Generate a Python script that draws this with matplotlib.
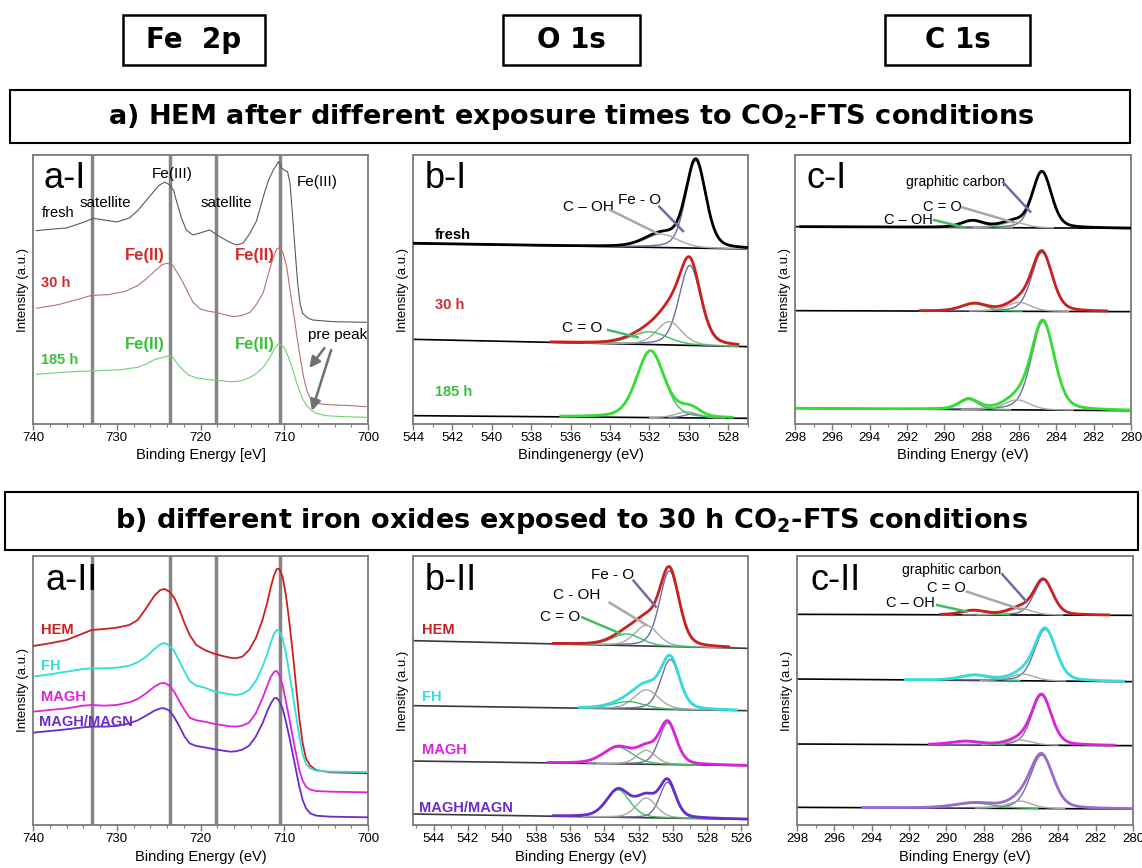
import numpy as np
import matplotlib

matplotlib.use("Agg")
import matplotlib.pyplot as plt
from matplotlib.patches import Rectangle

plt.rcParams["font.family"] = ["Liberation Sans", "DejaVu Sans"]
plt.rcParams["mathtext.fontset"] = "custom"
plt.rcParams["mathtext.rm"] = "DejaVu Sans:bold"
plt.rcParams["mathtext.it"] = "DejaVu Sans:bold"
plt.rcParams["mathtext.bf"] = "DejaVu Sans:bold"

# ---------------------------------------------------------------------------
# a-I  Fe 2p, HEM after 0 / 30 / 185 h  (binding energy eV, intensity a.u.)
FE1_FRESH_BE = [739.6, 738.0, 736.0, 734.0, 732.8, 731.5, 730.0, 728.5, 727.5, 726.1, 725.0,
                724.3, 723.7, 723.2, 722.9, 722.3, 721.7, 720.9, 719.8, 718.9, 717.7, 716.5,
                715.7, 714.9, 714.1, 713.3, 712.5, 711.9, 711.3, 710.7, 710.3, 709.9, 709.6,
                709.3, 709.0, 708.7, 708.4, 708.1, 707.8, 707.2, 706.6, 704.2, 702.0, 700.2]
FE1_FRESH_I = [580, 584, 588, 605, 617, 612, 606, 618, 640, 682, 715,
               726, 718, 700, 672, 620, 582, 567, 575, 582, 562, 545,
               537, 543, 572, 610, 682, 730, 762, 787, 768, 760, 757,
               720, 622, 520, 422, 360, 332, 318, 312, 307, 306, 305]
FE1_30H_BE = [739.6, 737.0, 734.5, 733.0, 731.0, 729.0, 727.5, 726.5, 725.5, 724.6, 724.0,
              723.4, 722.8, 722.1, 721.5, 720.9, 720.0, 719.0, 718.0, 717.0, 716.0, 715.0,
              714.1, 713.3, 712.5, 711.9, 711.3, 710.9, 710.5, 710.1, 709.7, 709.3, 708.9,
              708.5, 708.1, 707.7, 707.3, 706.9, 706.4, 705.6, 704.0, 702.0, 700.2]
FE1_30H_I = [347, 358, 375, 386, 388, 398, 415, 435, 458, 478, 482,
             478, 455, 425, 395, 365, 345, 338, 334, 327, 322, 326,
             335, 360, 395, 450, 500, 525, 530, 510, 470, 400, 335,
             265, 200, 142, 100, 78, 66, 60, 57, 55, 52]
FE1_185H_BE = [739.6, 737.0, 734.5, 732.0, 729.5, 727.5, 726.5, 725.5, 724.5, 723.8, 723.3,
               722.8, 722.2, 721.5, 720.5, 719.0, 717.5, 716.5, 715.5, 714.5, 713.5, 712.5,
               711.7, 711.2, 710.7, 710.3, 709.9, 709.5, 709.0, 708.6, 708.2, 707.8, 707.3,
               706.8, 706.2, 705.0, 703.0, 700.2]
FE1_185H_I = [149, 154, 158, 160, 163, 170, 180, 193, 200, 204, 200,
              182, 165, 148, 138, 133, 130, 127, 128, 135, 148, 170,
              200, 225, 240, 236, 225, 200, 165, 130, 100, 75, 55,
              42, 32, 25, 22, 20]

# a-II  Fe 2p, different iron oxides after 30 h
FE2_BE = [740.0, 738.0, 736.0, 734.0, 733.0, 731.5, 730.0, 728.5, 727.5, 726.5, 725.5,
          724.8, 724.3, 723.7, 723.1, 722.5, 721.9, 721.3, 720.5, 719.5, 718.5, 717.5,
          716.5, 715.8, 715.0, 714.2, 713.4, 712.6, 712.0, 711.6, 711.2, 710.9, 710.6,
          710.2, 709.8, 709.4, 709.0, 708.6, 708.2, 707.8, 707.4, 706.9, 706.2, 704.5, 700.0]
FE2_HEM_I = [537, 545, 555, 575, 585, 588, 592, 600, 615, 650, 688,
             705, 708, 700, 680, 645, 605, 570, 540, 525, 515, 508,
             502, 500, 505, 525, 560, 615, 670, 715, 750, 768, 768,
             745, 690, 610, 520, 420, 320, 245, 200, 178, 165, 158, 155]
FE2_FH_I = [445, 452, 460, 468, 470, 470, 472, 478, 488, 505, 528,
            542, 546, 538, 520, 490, 460, 432, 418, 412, 402, 397,
            392, 390, 393, 405, 432, 475, 515, 548, 575, 585, 582,
            560, 515, 455, 395, 330, 265, 212, 183, 170, 163, 160, 159]
FE2_MAGH_I = [340, 345, 350, 358, 360, 358, 360, 368, 378, 395, 415,
              425, 426, 418, 398, 370, 345, 322, 314, 310, 304, 300,
              296, 295, 298, 307, 335, 380, 420, 445, 460, 462, 450,
              420, 370, 320, 265, 215, 165, 133, 115, 106, 102, 100, 98]
FE2_MM_I = [277, 282, 287, 293, 295, 295, 297, 305, 314, 328, 343,
            350, 350, 343, 322, 295, 265, 245, 237, 233, 228, 224,
            220, 221, 226, 238, 265, 305, 343, 365, 380, 381, 372,
            350, 310, 265, 215, 165, 115, 75, 50, 35, 28, 25, 23]
FE_LINES = [733.0, 723.6, 718.1, 710.5]

# ---------------------------------------------------------------------------
# Peak fits: (centre eV, height a.u., FWHM eV), order = [main, grey, green]
# baselines: (intensity at high-BE edge, intensity at low-BE edge)
# b-I  O 1s
O1_FRESH_BASE = (542, 525)
O1_FRESH_PEAKS = [(529.65, 262, 1.2), (531.4, 40, 2.0)]
O1_30H_BASE = (254, 232)
O1_30H_PEAKS = [(529.95, 240, 1.3), (531.0, 70, 1.5), (532.0, 38, 2.2)]
O1_185H_BASE = (25, 17)
O1_185H_PEAKS = [(529.8, 12, 1.0), (530.1, 18, 1.3), (531.95, 200, 1.65)]
O1_RANGES = [(544.0, 527.0), (537.0, 527.5), (536.5, 527.8)]

# c-I  C 1s
C1_TOP_BASE = (592, 587)
C1_TOP_PEAKS = [(284.77, 168, 1.2), (286.3, 17, 1.5), (288.5, 20, 1.4)]
C1_MID_BASE = (340, 337)
C1_MID_PEAKS = [(284.77, 177, 1.3), (286.0, 27, 1.5), (288.4, 22, 1.6)]
C1_BOT_BASE = (47, 40)
C1_BOT_PEAKS = [(284.72, 265, 1.45), (286.1, 30, 1.6), (288.7, 30, 1.2)]
C1_RANGES = [(297.7, 280.0), (291.3, 281.3), (297.9, 280.0)]

# b-II  O 1s
O2_HEM_BASE = (553, 530)
O2_HEM_PEAKS = [(530.2, 227, 1.35), (531.55, 62, 1.6), (532.7, 35, 2.0)]
O2_FH_BASE = (358, 343)
O2_FH_PEAKS = [(530.15, 150, 1.3), (531.55, 58, 1.7), (532.6, 22, 2.2)]
O2_MAGH_BASE = (192, 178)
O2_MAGH_PEAKS = [(530.3, 125, 1.2), (531.55, 42, 1.3), (533.2, 50, 2.0)]
O2_MM_BASE = (33, 17)
O2_MM_PEAKS = [(530.3, 107, 1.1), (531.55, 59, 1.4), (533.2, 82, 1.6)]
O2_RANGES = [(537.0, 526.7), (535.5, 526.3), (537.3, 525.6), (537.0, 525.6)]

# c-II  C 1s
C2_HEM_BASE = (632, 629)
C2_HEM_PEAKS = [(284.8, 105, 1.2), (286.05, 20, 1.5), (288.55, 13, 1.5)]
C2_FH_BASE = (438, 430)
C2_FH_PEAKS = [(284.7, 155, 1.35), (285.9, 20, 1.5), (288.5, 15, 1.8)]
C2_MAGH_BASE = (243, 238)
C2_MAGH_PEAKS = [(284.9, 150, 1.25), (286.05, 15, 1.5), (289.0, 10, 1.8)]
C2_MM_BASE = (53, 48)
C2_MM_PEAKS = [(284.9, 160, 1.45), (286.05, 22, 1.5), (288.5, 15, 2.5)]
C2_RANGES = [(290.3, 281.3), (292.2, 280.5), (290.9, 281.0), (294.5, 280.0)]

SAMPLES = ["HEM", "FH", "MAGH", "MAGH/MAGN"]
TIMES = ["fresh", "30 h", "185 h"]

# colours
C_FRESH, C_30H, C_185H = "#5a5a5a", "#b07373", "#74cf74"
T_RED, T_GREEN = "#d42a2a", "#3cbf3c"
ENV_I = ["black", "#cc2020", "#33dd33"]
ENV_II = ["#cc2020", "#33dddd", "#dd22dd", "#6a2ccc"]
ENV_C2 = ["#cc2020", "#33dddd", "#dd22dd", "#9a6ad0"]
COMP_COLORS = ["#6e6e9e", "#a8a8a8", "#44bb66"]
VLINE = "#858585"
SPINE = "#7a7a7a"
TITLE_FONT = ["DejaVu Sans"]


def profile(be, centre, height, fwhm, eta=0.3):
    d = (be - centre) / fwhm
    return height * ((1 - eta) * np.exp(-4 * np.log(2) * d ** 2) + eta / (1 + 4 * d ** 2))


def draw_fit(ax, xlim, base, peaks, env_range, env_color, base_color="black"):
    be = np.linspace(xlim[0], xlim[1], 1200)
    bl = base[0] + (base[1] - base[0]) * (xlim[0] - be) / (xlim[0] - xlim[1])
    ax.plot(be, bl, color=base_color, lw=1.2, zorder=2)
    inside = (be <= env_range[0]) & (be >= env_range[1])
    total = np.zeros_like(be)
    for (c, h, w), col in zip(peaks, COMP_COLORS):
        comp = profile(be, c, h, w)
        total += comp
        m = inside & (comp > 0.6)
        ax.plot(be[m], bl[m] + comp[m], color=col, lw=1.0, zorder=3)
    ax.plot(be[inside], bl[inside] + total[inside], color=env_color, lw=2.0, zorder=4)


def style(ax, xlim, major, minor, xlabel, ylabel):
    ax.set_xlim(*xlim)
    ax.set_ylim(0, 807)
    ax.set_yticks([])
    ax.set_xticks(major)
    ax.set_xticks(minor, minor=True)
    ax.tick_params(axis="x", which="major", direction="out", length=4, width=1,
                   labelsize=9.5, color=SPINE, pad=2)
    ax.tick_params(axis="x", which="minor", direction="out", length=2.5, width=0.8, color=SPINE)
    for s in ax.spines.values():
        s.set_color(SPINE)
        s.set_linewidth(1.3)
    ax.set_xlabel(xlabel, fontsize=10.5, labelpad=3)
    ax.set_ylabel(ylabel, fontsize=9.5, labelpad=3)


def leader(ax, x0, y0, x1, y1, color):
    ax.plot([x0, x1], [y0, y1], color=color, lw=1.8, zorder=6)


W, H = 1142, 868
fig = plt.figure(figsize=(W / 100, H / 100), dpi=100)


def axes_px(left, top, right, bottom):
    return fig.add_axes([left / W, 1 - bottom / H, (right - left) / W, (bottom - top) / H])


# header boxes
for label, x0, x1 in [("Fe  2p", 123, 265), ("O 1s", 503, 640), ("C 1s", 885, 1030)]:
    fig.patches.append(Rectangle((x0 / W, 1 - 65 / H), (x1 - x0) / W, 50 / H,
                                 transform=fig.transFigure, fill=False, lw=1.8, ec="black"))
    fig.text((x0 + x1) / 2 / W, 1 - 40 / H, label, ha="center", va="center",
             fontsize=20, fontweight="bold", family=TITLE_FONT)

for label, x0, x1, y0, y1 in [
    ("a) HEM after different exposure times to CO$_2$-FTS conditions", 10, 1130, 90, 143),
    ("b) different iron oxides exposed to 30 h CO$_2$-FTS conditions", 5, 1138, 492, 550),
]:
    fig.patches.append(Rectangle((x0 / W, 1 - y1 / H), (x1 - x0) / W, (y1 - y0) / H,
                                 transform=fig.transFigure, fill=False, lw=1.5, ec="black"))
    fig.text(0.5, 1 - (y0 + y1) / 2 / H, label, ha="center", va="center",
             fontsize=19.5, fontweight="bold", family=TITLE_FONT)

FE_MAJ = np.arange(700, 741, 10)
FE_MIN = np.arange(700, 741, 2)

# ---------------- a-I
ax = axes_px(33, 155, 368, 424)
for x in FE_LINES:
    ax.axvline(x, color=VLINE, lw=2.5, zorder=1)
ax.plot(FE1_FRESH_BE, FE1_FRESH_I, color=C_FRESH, lw=0.8, zorder=3)
ax.plot(FE1_30H_BE, FE1_30H_I, color=C_30H, lw=0.8, zorder=3)
ax.plot(FE1_185H_BE, FE1_185H_I, color=C_185H, lw=0.8, zorder=3)
style(ax, (740, 700), FE_MAJ, FE_MIN, "Binding Energy [eV]", "Intensity (a.u.)")
ax.text(738.7, 735, "a-I", fontsize=26, va="center")
ax.text(739.0, 632, TIMES[0], fontsize=10.5, va="center")
ax.text(731.4, 662, "satellite", fontsize=11, va="center", ha="center")
ax.text(723.4, 750, "Fe(III)", fontsize=11, va="center", ha="center")
ax.text(716.9, 662, "satellite", fontsize=11, va="center", ha="center")
ax.text(706.1, 725, "Fe(III)", fontsize=11, va="center", ha="center")
ax.text(739.0, 422, TIMES[1], fontsize=10.5, va="center", color=T_RED, fontweight="bold")
ax.text(739.0, 192, TIMES[2], fontsize=10.5, va="center", color=T_GREEN, fontweight="bold")
for xc in (726.6, 713.5):
    ax.text(xc, 506, "Fe(II)", fontsize=12, va="center", ha="center", color=T_RED, fontweight="bold")
    ax.text(xc, 239, "Fe(II)", fontsize=12, va="center", ha="center", color=T_GREEN, fontweight="bold")
ax.text(703.6, 268, "pre peak", fontsize=11, va="center", ha="center")
arrow = dict(arrowstyle="-|>", color="#707070", lw=1.8, mutation_scale=16, shrinkA=0, shrinkB=0)
ax.annotate("", xy=(707.0, 168), xytext=(705.2, 228), arrowprops=arrow)
ax.annotate("", xy=(706.7, 40), xytext=(704.4, 222), arrowprops=arrow)

# ---------------- b-I
xl = (544, 527)
ax = axes_px(413, 155, 748, 424)
for base, peaks, rng, col in zip([O1_FRESH_BASE, O1_30H_BASE, O1_185H_BASE],
                                 [O1_FRESH_PEAKS, O1_30H_PEAKS, O1_185H_PEAKS], O1_RANGES, ENV_I):
    draw_fit(ax, xl, base, peaks, rng, col)
style(ax, xl, np.arange(528, 545, 2), np.arange(527, 545, 1), "Bindingenergy (eV)", "Intensity (a.u.)")
ax.text(543.4, 735, "b-I", fontsize=26, va="center")
ax.text(542.9, 567, TIMES[0], fontsize=10.5, va="center", fontweight="bold")
ax.text(542.9, 357, TIMES[1], fontsize=10.5, va="center", fontweight="bold", color=T_RED)
ax.text(542.9, 95, TIMES[2], fontsize=10.5, va="center", fontweight="bold", color=T_GREEN)
ax.text(535.1, 650, "C – OH", fontsize=11, va="center", ha="center")
ax.text(532.5, 672, "Fe - O", fontsize=11, va="center", ha="center")
ax.text(535.4, 287, "C = O", fontsize=11, va="center", ha="center")
leader(ax, 534.0, 642, 531.6, 572, COMP_COLORS[1])
leader(ax, 531.5, 652, 530.3, 579, COMP_COLORS[0])
leader(ax, 534.1, 282, 532.6, 260, COMP_COLORS[2])

# ---------------- c-I
xl = (298, 280)
ax = axes_px(795, 155, 1131, 424)
for base, peaks, rng, col in zip([C1_TOP_BASE, C1_MID_BASE, C1_BOT_BASE],
                                 [C1_TOP_PEAKS, C1_MID_PEAKS, C1_BOT_PEAKS], C1_RANGES, ENV_I):
    draw_fit(ax, xl, base, peaks, rng, col)
style(ax, xl, np.arange(280, 299, 2), np.arange(280, 299, 1), "Binding Energy (eV)", "Intensity (a.u.)")
ax.text(297.4, 735, "c-I", fontsize=26, va="center")
ax.text(289.4, 725, "graphitic carbon", fontsize=10, va="center", ha="center")
ax.text(290.1, 652, "C = O", fontsize=10.5, va="center", ha="center")
ax.text(291.9, 612, "C – OH", fontsize=10.5, va="center", ha="center")
leader(ax, 286.85, 725, 285.4, 637, COMP_COLORS[0])
leader(ax, 289.05, 650, 286.3, 605, COMP_COLORS[1])
leader(ax, 290.55, 612, 288.95, 590, COMP_COLORS[2])

# ---------------- a-II
ax = axes_px(33, 556, 368, 825)
for x in FE_LINES:
    ax.axvline(x, color=VLINE, lw=2.5, zorder=1)
for vals, col in zip([FE2_HEM_I, FE2_FH_I, FE2_MAGH_I, FE2_MM_I], ENV_II):
    ax.plot(FE2_BE, vals, color=col, lw=1.3, zorder=3)
style(ax, (740, 700), FE_MAJ, FE_MIN, "Binding Energy (eV)", "Intensity (a.u.)")
ax.text(738.5, 733, "a-II", fontsize=26, va="center")
for name, y, col in zip(SAMPLES, [585, 477, 385, 310], ENV_II):
    ax.text(739.0 if name != "MAGH/MAGN" else 739.3, y, name, fontsize=10.5, va="center",
            color=col, fontweight="bold")

# ---------------- b-II
xl = (545.2, 525.6)
ax = axes_px(413, 556, 748, 825)
for base, peaks, rng, col in zip([O2_HEM_BASE, O2_FH_BASE, O2_MAGH_BASE, O2_MM_BASE],
                                 [O2_HEM_PEAKS, O2_FH_PEAKS, O2_MAGH_PEAKS, O2_MM_PEAKS],
                                 O2_RANGES, ENV_II):
    draw_fit(ax, xl, base, peaks, rng, col, base_color="#3a3a3a")
style(ax, xl, np.arange(526, 545, 2), np.arange(527, 546, 2), "Binding Energy (eV)", "Inensity (a.u.)")
ax.text(544.5, 733, "b-II", fontsize=26, va="center")
for name, y, col in zip(SAMPLES, [585, 385, 225, 50], ENV_II):
    ax.text(544.7 if name != "MAGH/MAGN" else 544.85, y, name, fontsize=10.5, va="center",
            color=col, fontweight="bold")
ax.text(533.5, 750, "Fe - O", fontsize=11, va="center", ha="center")
ax.text(535.6, 690, "C - OH", fontsize=11, va="center", ha="center")
ax.text(536.6, 625, "C = O", fontsize=11, va="center", ha="center")
leader(ax, 532.3, 733, 531.0, 655, COMP_COLORS[0])
leader(ax, 533.7, 667, 531.55, 600, COMP_COLORS[1])
leader(ax, 535.3, 623, 533.1, 575, COMP_COLORS[2])

# ---------------- c-II
xl = (298, 280)
ax = axes_px(797, 556, 1133, 825)
for base, peaks, rng, col in zip([C2_HEM_BASE, C2_FH_BASE, C2_MAGH_BASE, C2_MM_BASE],
                                 [C2_HEM_PEAKS, C2_FH_PEAKS, C2_MAGH_PEAKS, C2_MM_PEAKS],
                                 C2_RANGES, ENV_C2):
    draw_fit(ax, xl, base, peaks, rng, col)
style(ax, xl, np.arange(280, 299, 2), np.arange(280, 299, 1), "Binding Energy (eV)", "Inensity (a.u.)")
ax.text(297.3, 733, "c-II", fontsize=26, va="center")
ax.text(289.7, 765, "graphitic carbon", fontsize=10, va="center", ha="center")
ax.text(290.0, 710, "C = O", fontsize=10.5, va="center", ha="center")
ax.text(291.9, 665, "C – OH", fontsize=10.5, va="center", ha="center")
leader(ax, 287.0, 752, 285.7, 670, COMP_COLORS[0])
leader(ax, 288.9, 700, 285.9, 645, COMP_COLORS[1])
leader(ax, 290.5, 660, 288.9, 640, COMP_COLORS[2])

fig.savefig("out.png", dpi=100)
